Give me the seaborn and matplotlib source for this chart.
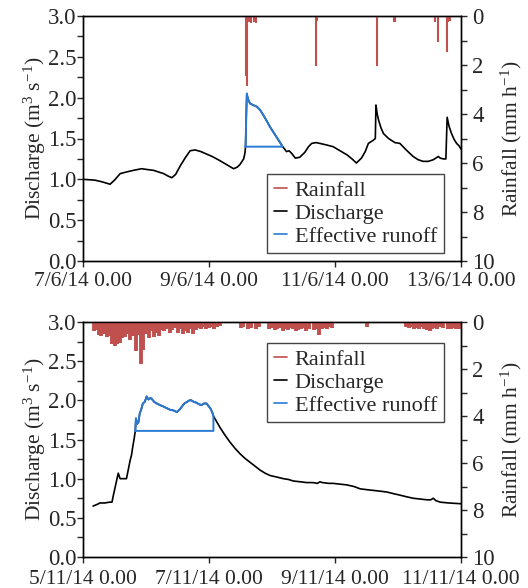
import numpy as np
import matplotlib
matplotlib.use("Agg")
import matplotlib.pyplot as plt
import pandas as pd
import seaborn as sns
from matplotlib.lines import Line2D
from matplotlib.ticker import MultipleLocator

# ---- June event (days since 7/6/14 0:00) ----
top_pre_t = [0.00, 0.19, 0.30, 0.43, 0.50, 0.59, 0.69, 0.80, 0.93, 1.02, 1.12, 1.20, 1.28, 1.35,
             1.41, 1.47, 1.54, 1.62, 1.70, 1.78, 1.87, 1.96, 2.05, 2.17, 2.28, 2.39, 2.45, 2.49,
             2.55, 2.57]
top_pre_q = [1.00, 0.99, 0.97, 0.94, 0.99, 1.07, 1.09, 1.11, 1.13, 1.12, 1.11, 1.09, 1.07, 1.04,
             1.02, 1.06, 1.16, 1.26, 1.35, 1.36, 1.34, 1.31, 1.28, 1.23, 1.18, 1.13, 1.15, 1.18,
             1.25, 1.32]
top_evt_t = [2.58, 2.60, 2.62, 2.65, 2.70, 2.76, 2.81, 2.86, 2.92, 2.97, 3.02, 3.07, 3.12, 3.17]
top_evt_q = [1.40, 2.05, 1.98, 1.93, 1.91, 1.89, 1.85, 1.79, 1.71, 1.64, 1.58, 1.52, 1.46, 1.40]
top_post_t = [3.23, 3.27, 3.31, 3.37, 3.44, 3.52, 3.58, 3.63, 3.70, 3.76, 3.87, 3.97, 4.08, 4.19,
              4.27, 4.34, 4.42, 4.48, 4.53, 4.61, 4.64, 4.65, 4.67, 4.69, 4.73, 4.77, 4.85, 4.95,
              5.03, 5.13, 5.24, 5.32, 5.40, 5.48, 5.56, 5.62, 5.64, 5.67, 5.72, 5.76, 5.78, 5.81,
              5.85, 5.89, 5.93, 5.97, 6.00]
top_post_q = [1.34, 1.35, 1.32, 1.26, 1.27, 1.33, 1.40, 1.44, 1.45, 1.44, 1.42, 1.40, 1.35, 1.30,
              1.25, 1.20, 1.26, 1.34, 1.44, 1.48, 1.50, 1.91, 1.80, 1.73, 1.63, 1.56, 1.50, 1.45,
              1.44, 1.36, 1.28, 1.24, 1.22, 1.22, 1.24, 1.27, 1.28, 1.26, 1.25, 1.25, 1.76, 1.65,
              1.56, 1.49, 1.44, 1.41, 1.37]
top_base = 1.40
top_rain_t = [2.58, 2.60, 2.63, 2.67, 2.71, 2.75, 3.70, 3.72, 4.66, 4.94, 4.96, 5.58, 5.63, 5.77,
              5.80, 5.82]
top_rain_mm = [2.45, 2.85, 0.25, 0.30, 0.25, 0.30, 2.05, 0.20, 2.05, 0.25, 0.25, 0.25, 1.05, 1.45,
               0.25, 0.20]
top_xlabels = ["7/6/14 0.00", "9/6/14 0.00", "11/6/14 0.00", "13/6/14 0.00"]

# ---- November event (days since 5/11/14 0:00) ----
bot_pre_t = [0.16, 0.22, 0.27, 0.35, 0.42, 0.46, 0.48, 0.51, 0.54, 0.56, 0.58, 0.59, 0.65, 0.69,
             0.72, 0.75, 0.77, 0.79, 0.81]
bot_pre_q = [0.65, 0.67, 0.69, 0.69, 0.70, 0.70, 0.78, 0.89, 1.00, 1.07, 1.02, 1.00, 1.00, 1.00,
             1.12, 1.24, 1.30, 1.41, 1.50]
bot_evt_t = [0.83, 0.84, 0.86, 0.88, 0.90, 0.93, 0.95, 0.98, 1.01, 1.04, 1.07, 1.09, 1.13, 1.17,
             1.22, 1.28, 1.33, 1.38, 1.44, 1.49, 1.53, 1.57, 1.61, 1.65, 1.69, 1.72, 1.76, 1.80,
             1.84, 1.88, 1.92, 1.96, 1.99, 2.02, 2.05, 2.07]
bot_evt_q = [1.61, 1.77, 1.70, 1.72, 1.83, 1.90, 1.96, 1.98, 2.05, 2.01, 2.03, 2.02, 1.98, 1.96,
             1.94, 1.92, 1.90, 1.88, 1.87, 1.85, 1.88, 1.92, 1.96, 1.98, 2.00, 2.00, 1.98, 1.97,
             1.95, 1.94, 1.96, 1.96, 1.93, 1.90, 1.85, 1.80]
bot_post_t = [2.12, 2.17, 2.25, 2.33, 2.41, 2.49, 2.57, 2.65, 2.73, 2.81, 2.89, 2.97, 3.08, 3.18,
              3.26, 3.34, 3.45, 3.55, 3.65, 3.72, 3.76, 3.80, 3.90, 3.97, 4.08, 4.19, 4.30, 4.40,
              4.50, 4.61, 4.72, 4.82, 4.92, 5.03, 5.13, 5.24, 5.35, 5.46, 5.52, 5.56, 5.60, 5.67,
              5.80, 6.00]
bot_post_q = [1.73, 1.66, 1.56, 1.47, 1.39, 1.32, 1.26, 1.21, 1.16, 1.11, 1.07, 1.04, 1.02, 1.00,
              0.99, 0.97, 0.96, 0.95, 0.95, 0.94, 0.96, 0.95, 0.94, 0.94, 0.93, 0.92, 0.90, 0.87,
              0.86, 0.85, 0.84, 0.83, 0.81, 0.79, 0.77, 0.75, 0.74, 0.73, 0.73, 0.75, 0.72, 0.70,
              0.69, 0.68]
bot_base = 1.61
# hourly rainfall (hour since 5/11/14 0:00, mm/h)
bot_rain_h = list(range(4, 53)) + [60, 61, 63, 64, 66, 67] + \
    [71, 72, 73, 74, 75, 76, 77, 78, 79, 80, 81, 82, 83, 84, 85, 86, 88, 89, 90, 91, 92, 93, 94, 95] + \
    [108] + list(range(123, 138)) + list(range(139, 145))
bot_rain_mm = [0.40, 0.35, 0.55, 0.60, 0.50, 0.65, 0.60, 0.95, 1.00, 0.95, 0.90, 0.70, 0.65, 0.50,
               0.75, 0.60, 1.25, 0.55, 1.80, 1.20, 0.50, 0.70, 0.40, 0.65, 0.45, 0.60, 0.35, 0.40,
               0.30, 0.45, 0.35, 0.25, 0.45, 0.30, 0.50, 0.40, 0.45, 0.30, 0.50, 0.35, 0.25, 0.30,
               0.20, 0.30, 0.25, 0.20, 0.30, 0.20, 0.15] + \
    [0.25, 0.20, 0.30, 0.25, 0.30, 0.20] + \
    [0.30, 0.25, 0.35, 0.30, 0.25, 0.40, 0.30, 0.35, 0.25, 0.30, 0.40, 0.35, 0.30, 0.25, 0.40, 0.30,
     0.35, 0.30, 0.55, 0.30, 0.25, 0.30, 0.20, 0.25] + \
    [0.20] + \
    [0.20, 0.25, 0.20, 0.30, 0.25, 0.30, 0.20, 0.30, 0.35, 0.40, 0.30, 0.25, 0.30, 0.20, 0.25] + \
    [0.30, 0.30, 0.25, 0.30, 0.30, 0.30]
bot_xlabels = ["5/11/14 0.00", "7/11/14 0.00", "9/11/14 0.00", "11/11/14 0.00"]

RED = "#c0504d"
BLUE = "#2a7ad4"
FS = 15.5     # x tick labels, axis labels
YFS = 16.5    # y tick labels
LFS = 16      # legend

sns.set_style("ticks")
plt.rcParams["font.family"] = ["Liberation Serif", "DejaVu Serif"]
plt.rcParams["mathtext.fontset"] = "custom"
plt.rcParams["mathtext.rm"] = "Liberation Serif"
plt.rcParams["mathtext.it"] = "Liberation Serif"


def draw_panel(ax, pre_t, pre_q, evt_t, evt_q, post_t, post_q, base, rain_t, rain_mm, xlabels,
               rain_lw, xpad):
    q_df = pd.DataFrame({"t": pre_t + evt_t + post_t, "q": pre_q + evt_q + post_q})
    sns.lineplot(data=q_df, x="t", y="q", color="black", lw=1.2, ax=ax, sort=False,
                 estimator=None, legend=False)
    # effective runoff: hydrograph above the straight baseflow separation line
    r_df = pd.DataFrame({"t": [evt_t[0]] + evt_t + [evt_t[-1], evt_t[0]],
                         "q": [base] + evt_q + [base, base]})
    sns.lineplot(data=r_df, x="t", y="q", color=BLUE, lw=1.4, ax=ax, sort=False,
                 estimator=None, legend=False)

    ax.set_xlim(0, 6)
    ax.set_ylim(0, 3)
    ax.set_xticks([0, 2, 4, 6])
    ax.set_xticklabels(xlabels)
    ax.yaxis.set_major_locator(MultipleLocator(0.5))
    ax.yaxis.set_minor_locator(MultipleLocator(0.25))
    ax.yaxis.set_major_formatter(matplotlib.ticker.FormatStrFormatter("%.1f"))
    ax.set_xlabel("")
    ax.set_ylabel("Discharge (m$^3$ s$^{-1}$)", fontsize=FS, labelpad=0)
    ax.tick_params(axis="x", which="major", direction="out", length=4, width=1,
                   labelsize=FS, pad=xpad)
    ax.tick_params(axis="y", which="major", direction="out", length=4, width=1,
                   labelsize=YFS, pad=0.5)
    ax.tick_params(axis="y", which="minor", direction="out", length=4, width=1)

    ax2 = ax.twinx()
    ax2.vlines(rain_t, 0, rain_mm, color=RED, lw=rain_lw)
    ax2.set_ylim(10, 0)
    ax2.yaxis.set_major_locator(MultipleLocator(2))
    ax2.yaxis.set_minor_locator(MultipleLocator(1))
    ax2.set_ylabel("Rainfall (mm h$^{-1}$)", fontsize=FS, labelpad=3)
    ax2.tick_params(axis="y", which="major", direction="out", length=4, width=1,
                    labelsize=YFS, pad=4)
    ax2.tick_params(axis="y", which="minor", direction="out", length=4, width=1)
    for a in (ax, ax2):
        for s in a.spines.values():
            s.set_color("black")
            s.set_linewidth(1.0)
    return ax2


fig = plt.figure(figsize=(5.28, 5.88), dpi=100)
ax_top = fig.add_axes([83 / 528, 1 - 261 / 588, 378 / 528, 245 / 588])
ax_bot = fig.add_axes([83 / 528, 1 - 557 / 588, 378 / 528, 235 / 588])

t2 = draw_panel(ax_top, top_pre_t, top_pre_q, top_evt_t, top_evt_q, top_post_t, top_post_q,
                top_base, top_rain_t, top_rain_mm, top_xlabels, 1.5, 4)
b2 = draw_panel(ax_bot, bot_pre_t, bot_pre_q, bot_evt_t, bot_evt_q, bot_post_t, bot_post_q,
                bot_base, [h / 24 for h in bot_rain_h], bot_rain_mm, bot_xlabels, 2.8, 5)

handles = [Line2D([], [], color=RED, lw=1.2),
           Line2D([], [], color="black", lw=1.2),
           Line2D([], [], color=BLUE, lw=1.2)]
labels = ["Rainfall", "Discharge", "Effective runoff"]
for a2, ytop in ((t2, 0.355), (b2, 0.911)):
    leg = a2.legend(handles, labels, loc="upper left", bbox_to_anchor=(0.487, ytop),
                    fontsize=LFS, frameon=True, fancybox=False, framealpha=1,
                    handlelength=0.6, handletextpad=0.35, labelspacing=0.1,
                    borderpad=0.3, borderaxespad=0)
    leg.get_frame().set_edgecolor("#444444")
    leg.get_frame().set_linewidth(1.0)

fig.savefig("out.png", dpi=100)
